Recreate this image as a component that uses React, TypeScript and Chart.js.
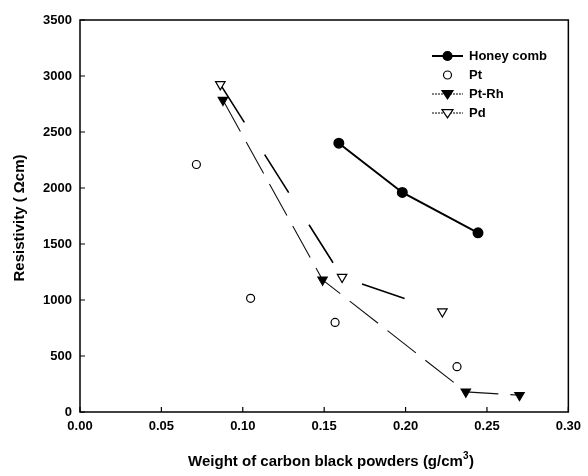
import React, { useEffect, useRef } from "react";
import { Chart, registerables } from "chart.js";

Chart.register(...registerables);

const honeyX = [0.159, 0.198, 0.2445];
const honeyY = [2400, 1960, 1600];
const ptX = [0.0715, 0.1048, 0.1567, 0.2316];
const ptY = [2210, 1015, 800, 405];
const ptrhX = [0.0878, 0.149, 0.237, 0.27];
const ptrhY = [2785, 1180, 180, 150];
const pdX = [0.0862, 0.161, 0.2226];
const pdY = [2925, 1205, 897];

const xTicks = [0, 0.05, 0.1, 0.15, 0.2, 0.25, 0.3];
const yTicks = [0, 500, 1000, 1500, 2000, 2500, 3000, 3500];
const seriesNames = ["Honey comb", "Pt", "Pt-Rh", "Pd"];
const xTitle = "Weight of carbon black powders (g/cm";
const yTitle = "Resistivity ( \u03A9cm)";

const FONT = "'Liberation Sans', Arial, sans-serif";

const pts = (xs: number[], ys: number[]) => xs.map((x, i) => ({ x, y: ys[i] }));

const framePlugin = {
  id: "frame",
  afterDraw(chart: any) {
    const { ctx, chartArea: a, scales } = chart;
    const xs = scales.x;
    const ys = scales.y;
    ctx.save();
    ctx.strokeStyle = "#000";
    ctx.lineWidth = 1.5;
    ctx.strokeRect(a.left, a.top, a.right - a.left, a.bottom - a.top);
    ctx.lineWidth = 1.2;
    ctx.beginPath();
    xTicks.forEach((v) => {
      const px = xs.getPixelForValue(v);
      ctx.moveTo(px, a.bottom);
      ctx.lineTo(px, a.bottom - 5);
    });
    yTicks.forEach((v) => {
      const py = ys.getPixelForValue(v);
      ctx.moveTo(a.left, py);
      ctx.lineTo(a.left + 5, py);
    });
    ctx.stroke();

    // axis titles
    ctx.fillStyle = "#000";
    ctx.font = `bold 15px ${FONT}`;
    ctx.textBaseline = "middle";
    ctx.textAlign = "left";
    const w = ctx.measureText(xTitle).width;
    const cx = 331;
    const startX = cx - (w + 11) / 2;
    ctx.fillText(xTitle, startX, 462);
    ctx.font = `bold 10px ${FONT}`;
    ctx.fillText("3", startX + w, 456);
    ctx.font = `bold 15px ${FONT}`;
    ctx.fillText(")", startX + w + 6, 462);

    ctx.save();
    ctx.translate(20, 218);
    ctx.rotate(-Math.PI / 2);
    ctx.textAlign = "center";
    ctx.fillText(yTitle, 0, 0);
    ctx.restore();

    // legend
    const lx0 = 432;
    const lx1 = 463;
    const rows = [56, 75, 94, 113];
    ctx.font = `bold 13px ${FONT}`;
    chart.data.datasets.forEach((ds: any, i: number) => {
      const y = rows[i];
      const mid = (lx0 + lx1) / 2;
      if (ds.showLine !== false) {
        ctx.save();
        ctx.strokeStyle = "#000";
        ctx.lineWidth = i === 0 ? 2 : 1;
        if (i > 0) ctx.setLineDash([2, 1]);
        ctx.beginPath();
        ctx.moveTo(lx0, y);
        ctx.lineTo(lx1, y);
        ctx.stroke();
        ctx.restore();
      }
      ctx.save();
      ctx.fillStyle = ds.pointBackgroundColor;
      ctx.strokeStyle = "#000";
      ctx.lineWidth = 1.2;
      ctx.beginPath();
      if (ds.pointStyle === "circle") {
        ctx.arc(mid, y, ds.pointRadius, 0, Math.PI * 2);
      } else {
        const r = ds.pointRadius;
        ctx.moveTo(mid - r, y - r * 0.6);
        ctx.lineTo(mid + r, y - r * 0.6);
        ctx.lineTo(mid, y + r * 0.9);
        ctx.closePath();
      }
      ctx.fill();
      ctx.stroke();
      ctx.restore();
      ctx.fillStyle = "#000";
      ctx.textAlign = "left";
      ctx.fillText(ds.label, 469, y);
    });
    ctx.restore();
  },
};

export default function App() {
  const ref = useRef<HTMLCanvasElement>(null);
  useEffect(() => {
    if (!ref.current) return;
    const chart = new Chart(ref.current, {
      type: "scatter",
      data: {
        datasets: [
          {
            label: seriesNames[0],
            data: pts(honeyX, honeyY),
            showLine: true,
            borderColor: "#000",
            borderWidth: 2,
            pointStyle: "circle",
            pointRadius: 4.5,
            pointBackgroundColor: "#000",
            pointBorderColor: "#000",
          },
          {
            label: seriesNames[1],
            data: pts(ptX, ptY),
            showLine: false,
            pointStyle: "circle",
            pointRadius: 4,
            pointBorderWidth: 1.2,
            pointBackgroundColor: "#fff",
            pointBorderColor: "#000",
          },
          {
            label: seriesNames[2],
            data: pts(ptrhX, ptrhY),
            showLine: true,
            borderColor: "#111",
            borderWidth: 1.1,
            borderDash: [36, 12],
            pointStyle: "triangle",
            rotation: 180,
            pointRadius: 5.5,
            pointBackgroundColor: "#000",
            pointBorderColor: "#000",
          },
          {
            label: seriesNames[3],
            data: pts(pdX, pdY),
            showLine: true,
            borderColor: "#000",
            borderWidth: 1.6,
            borderDash: [45, 38],
            pointStyle: "triangle",
            rotation: 180,
            pointRadius: 5.5,
            pointBorderWidth: 1.2,
            pointBackgroundColor: "#fff",
            pointBorderColor: "#000",
          },
        ],
      },
      options: {
        responsive: false,
        animation: false,
        layout: { padding: { top: 20, right: 18, left: 0, bottom: 0 } },
        plugins: { legend: { display: false }, tooltip: { enabled: false } },
        scales: {
          x: {
            type: "linear",
            min: 0,
            max: 0.3,
            afterBuildTicks: (s: any) => {
              s.ticks = xTicks.map((v) => ({ value: v }));
            },
            afterFit: (s: any) => {
              s.height = 64;
            },
            grid: { display: false, drawTicks: false },
            border: { display: false },
            ticks: {
              color: "#000",
              padding: 7,
              font: { family: FONT, size: 13, weight: "bold" },
              callback: (v: any) => Number(v).toFixed(2),
            },
          },
          y: {
            type: "linear",
            min: 0,
            max: 3500,
            afterBuildTicks: (s: any) => {
              s.ticks = yTicks.map((v) => ({ value: v }));
            },
            afterFit: (s: any) => {
              s.width = 80;
            },
            grid: { display: false, drawTicks: false },
            border: { display: false },
            ticks: {
              color: "#000",
              padding: 8,
              font: { family: FONT, size: 13, weight: "bold" },
              callback: (v: any) => String(v),
            },
          },
        },
      },
      plugins: [framePlugin],
    } as any);
    return () => chart.destroy();
  }, []);
  return (
    <div style={{ position: "fixed", left: 0, top: 0, width: 588, height: 476, background: "#fff" }}>
      <canvas ref={ref} width={588} height={476} />
    </div>
  );
}
